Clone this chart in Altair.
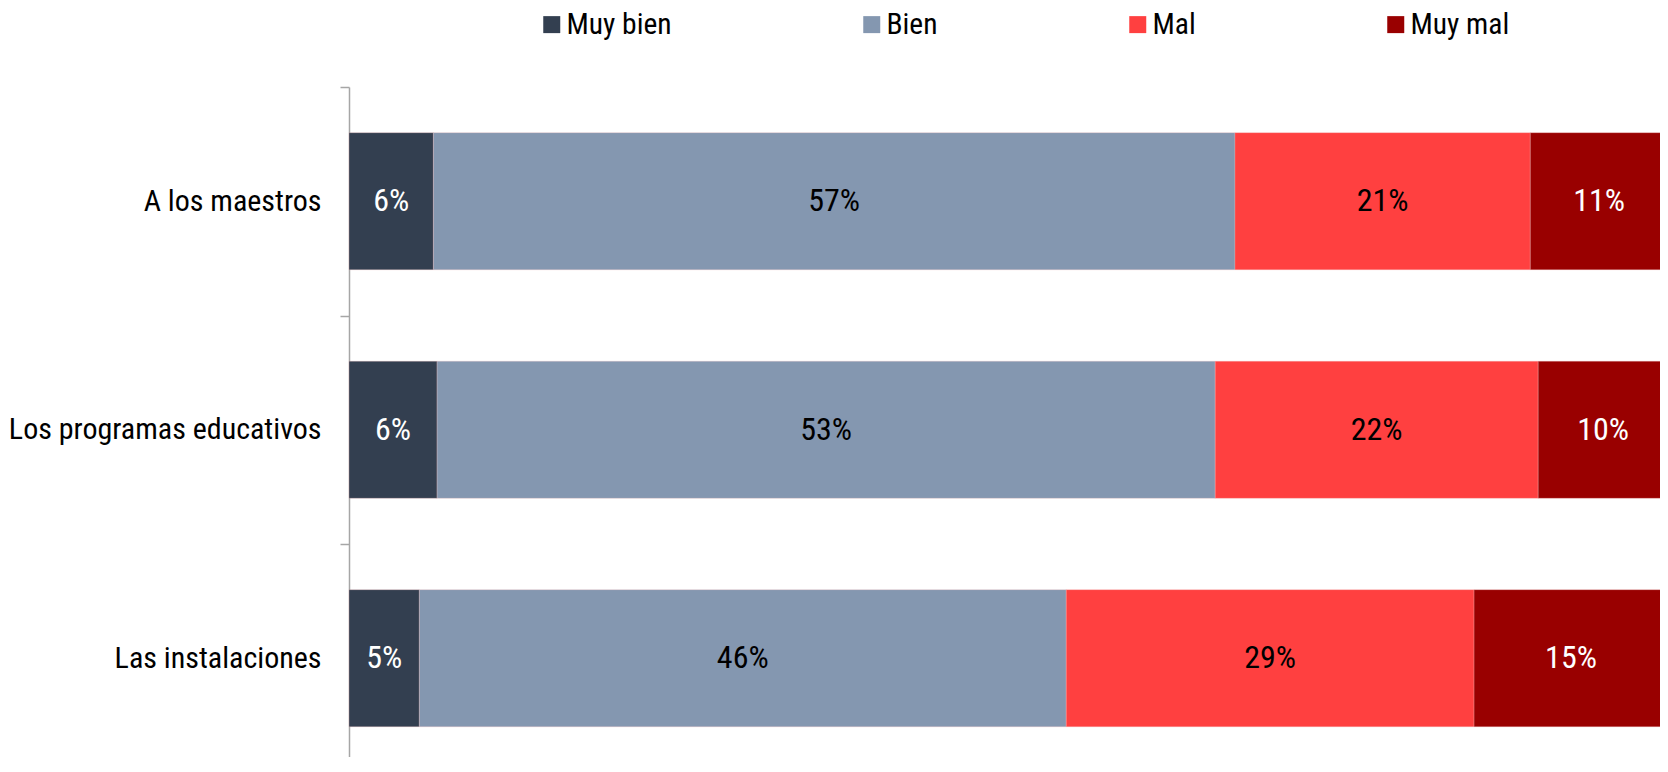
import altair as alt
import pandas as pd

categories = ["A los maestros", "Los programas educativos", "Las instalaciones"]
ratings = ["Muy bien", "Bien", "Mal", "Muy mal"]
colors = ["#333F50", "#8497B0", "#FF4040", "#990000"]
label_colors = ["white", "black", "black", "white"]

muy_bien = [6, 6, 5]
bien = [57, 53, 46]
mal = [21, 22, 29]
muy_mal = [11, 10, 15]

FONT = "Roboto Condensed, Liberation Sans Narrow, Liberation Sans, sans-serif"

LEFT = 341
PLOT_W = 1652 - LEFT    # svg must not exceed the body width
FULL_W = 1336           # width that 100% maps to (right end is cut off)
VISIBLE = 1319 / FULL_W  # visible share of the axis in the original

rows = []
series = [muy_bien, bien, mal, muy_mal]
for ci, cat in enumerate(categories):
    total = sum(s[ci] for s in series)
    cum = 0.0
    for ri, r in enumerate(ratings):
        v = series[ri][ci]
        start = cum / total
        end = (cum + v) / total
        cum += v
        rows.append({
            "category": cat,
            "rating": r,
            "order": ri,
            "value": v,
            "start": start,
            "end": end,
            "mid": (start + min(end, VISIBLE)) / 2,
            "label": f"{v}%",
            "tcolor": label_colors[ri],
        })
df = pd.DataFrame(rows)

y_scale = alt.Scale(domain=categories, range=[0, 685.5], paddingInner=0, paddingOuter=0)

y_enc = alt.Y(
    "category:N",
    sort=categories,
    scale=y_scale,
    axis=alt.Axis(
        title=None,
        domainColor="#A6A6A6",
        domainWidth=1.5,
        tickColor="#A6A6A6",
        tickWidth=1.5,
        tickSize=9,
        tickBand="extent",
        labelFontSize=30,
        labelFont=FONT,
        labelColor="black",
        labelPadding=19,
        labelLimit=400,
        grid=False,
    ),
)

x_scale = alt.Scale(domain=[0, 1], range=[0, FULL_W])

bars = alt.Chart(df).mark_bar(
    height={"band": 0.6}, stroke="#F2B8B8", strokeWidth=0.6, strokeOpacity=0.5
).encode(
    x=alt.X("start:Q", scale=x_scale, axis=None),
    x2="end:Q",
    y=y_enc,
    color=alt.Color(
        "rating:N",
        scale=alt.Scale(domain=ratings, range=colors),
        legend=alt.Legend(
            title=None,
            orient="none",
            legendX=188,
            legendY=-77.5,
            direction="horizontal",
            symbolType="square",
            symbolSize=289,
            symbolStrokeWidth=0,
            symbolOpacity=1,
            labelFontSize=29.5,
            labelFont=FONT,
            labelColor="black",
            labelOffset=0,
            columnPadding=185,
            padding=0,
        ),
    ),
)

labels = alt.Chart(df).mark_text(fontSize=32, font=FONT).encode(
    x=alt.X("mid:Q", scale=x_scale, axis=None),
    y=alt.Y("category:N", sort=categories),
    text="label:N",
    color=alt.Color("tcolor:N", scale=None),
)

chart = (
    alt.layer(bars, labels)
    .properties(
        width=PLOT_W,
        height=670,
        autosize=alt.AutoSizeParams(type="none"),
        padding={"left": LEFT, "top": 79, "right": 0, "bottom": 0},
        background="white",
    )
    .configure_view(stroke=None)
)

chart.save("out.html", embed_options={"renderer": "svg", "actions": False})
